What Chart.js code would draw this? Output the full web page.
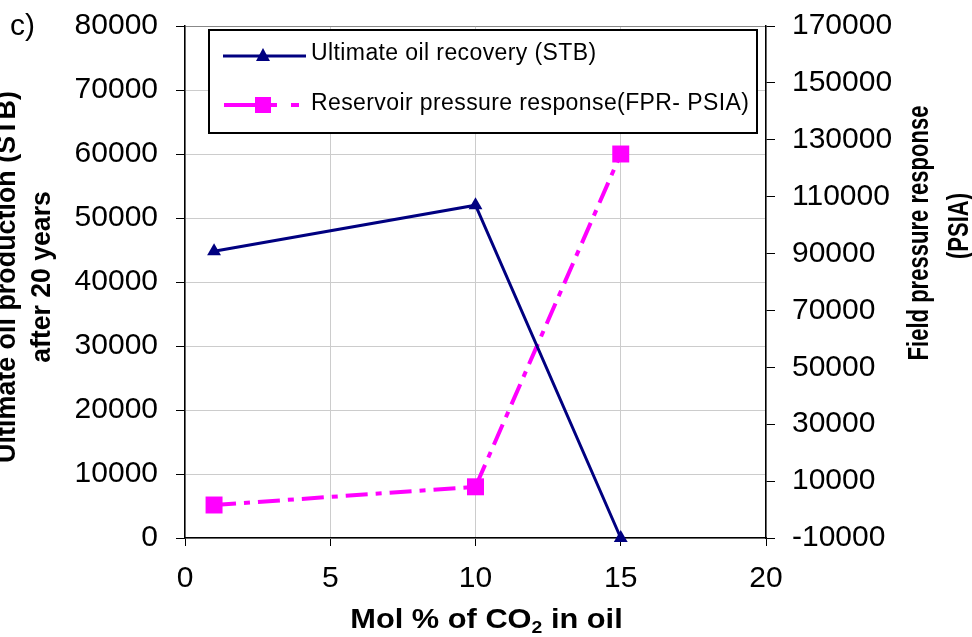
<!DOCTYPE html>
<html>
<head>
<meta charset="utf-8">
<script src="https://cdn.jsdelivr.net/npm/chart.js@4/dist/chart.umd.min.js"></script>
<style>
  html, body { margin: 0; padding: 0; background: #fff; }
  #wrap { width: 972px; height: 637px; position: relative; }
</style>
</head>
<body>
<div id="wrap"><canvas id="chart" width="972" height="637"></canvas></div>
<script>
// values
const molCO2 = [1, 10, 15];
const oilRecovery = [44800, 52000, 0];
const pressureResponse = [1600, 8000, 125000];

const xTicks = [0, 5, 10, 15, 20];
const leftTicks = [0, 10000, 20000, 30000, 40000, 50000, 60000, 70000, 80000];
const rightTicks = [-10000, 10000, 30000, 50000, 70000, 90000, 110000, 130000, 150000, 170000];

const seriesNames = ['Ultimate oil recovery (STB)', 'Reservoir pressure response(FPR- PSIA)'];

const FONT = "'Liberation Sans', Arial, sans-serif";
const NAVY = '#000080';
const PINK = '#ff00ff';

const fixTicks = (list) => (scale) => {
  scale.ticks = list.map((v) => ({ value: v }));
};

// fixed axis width, and no extra top/bottom room for the end labels
const fixWidth = (w) => (scale) => {
  scale.width = w;
  scale.paddingTop = 0;
  scale.paddingBottom = 0;
};

const drawRotated = (ctx, text, x, y, font, sx) => {
  ctx.save();
  ctx.translate(x, y);
  ctx.rotate(-Math.PI / 2);
  ctx.scale(sx, 1);
  ctx.font = font;
  ctx.textAlign = 'center';
  ctx.textBaseline = 'alphabetic';
  ctx.fillStyle = '#000';
  ctx.fillText(text, 0, 0);
  ctx.restore();
};

const annotations = {
  id: 'annotations',
  afterDraw(chart) {
    const ctx = chart.ctx;
    ctx.save();

    // panel label
    ctx.font = `30px ${FONT}`;
    ctx.fillStyle = '#000';
    ctx.textAlign = 'left';
    ctx.textBaseline = 'alphabetic';
    ctx.fillText('c)', 10, 35);

    // axis titles
    const bold = `bold 28px ${FONT}`;
    drawRotated(ctx, 'Ultimate oil production (STB)', 15, 277, bold, 0.96);
    drawRotated(ctx, 'after 20 years', 50, 277, bold, 0.95);
    drawRotated(ctx, 'Field pressure response', 928, 233, `bold 29px ${FONT}`, 0.76);
    drawRotated(ctx, '(PSIA)', 968, 226, `bold 29px ${FONT}`, 0.76);

    // x title with subscript
    const main1 = 'Mol % of CO';
    const sub = '2';
    const main2 = ' in oil';
    const big = `bold 27px ${FONT}`;
    const small = `bold 17px ${FONT}`;
    ctx.font = big;
    const w1 = ctx.measureText(main1).width;
    const w3 = ctx.measureText(main2).width;
    ctx.font = small;
    const w2 = ctx.measureText(sub).width;
    const total = w1 + w2 + w3;
    ctx.save();
    ctx.translate(486.5, 628);
    ctx.scale(1.14, 1);
    let cx = -total / 2;
    ctx.textAlign = 'left';
    ctx.font = big;
    ctx.fillText(main1, cx, 0);
    cx += w1;
    ctx.font = small;
    ctx.fillText(sub, cx, 5);
    cx += w2;
    ctx.font = big;
    ctx.fillText(main2, cx, 0);
    ctx.restore();

    // legend box
    ctx.fillStyle = '#fff';
    ctx.fillRect(209, 30, 548, 103);
    ctx.strokeStyle = '#000';
    ctx.lineWidth = 2;
    ctx.strokeRect(209, 30, 548, 103);

    // legend row 1
    ctx.strokeStyle = NAVY;
    ctx.lineWidth = 3;
    ctx.setLineDash([]);
    ctx.beginPath();
    ctx.moveTo(223, 56);
    ctx.lineTo(306, 56);
    ctx.stroke();
    ctx.fillStyle = NAVY;
    ctx.beginPath();
    ctx.moveTo(263, 48);
    ctx.lineTo(270, 61);
    ctx.lineTo(256, 61);
    ctx.closePath();
    ctx.fill();

    // legend row 2
    ctx.strokeStyle = PINK;
    ctx.lineWidth = 4;
    ctx.beginPath();
    ctx.moveTo(224, 105);
    ctx.lineTo(255, 105);
    ctx.moveTo(270, 105);
    ctx.lineTo(277, 105);
    ctx.moveTo(291, 105);
    ctx.lineTo(299, 105);
    ctx.stroke();
    ctx.fillStyle = PINK;
    ctx.fillRect(255, 97, 16, 16);

    ctx.fillStyle = '#000';
    ctx.font = `23px ${FONT}`;
    ctx.letterSpacing = '0.4px';
    ctx.fillText(seriesNames[0], 311, 60);
    ctx.fillText(seriesNames[1], 311, 110);
    ctx.letterSpacing = '0px';

    ctx.restore();
  },
};

const ctx = document.getElementById('chart').getContext('2d');

new Chart(ctx, {
  type: 'line',
  data: {
    datasets: [
      {
        label: seriesNames[0],
        data: molCO2.map((x, i) => ({ x, y: oilRecovery[i] })),
        yAxisID: 'y',
        borderColor: NAVY,
        backgroundColor: NAVY,
        borderWidth: 3,
        pointStyle: 'triangle',
        pointRadius: 8,
        pointBorderWidth: 0,
        tension: 0,
        clip: false,
      },
      {
        label: seriesNames[1],
        data: molCO2.map((x, i) => ({ x, y: pressureResponse[i] })),
        yAxisID: 'y1',
        borderColor: PINK,
        backgroundColor: PINK,
        borderWidth: 4,
        borderDash: [22, 8, 6, 8],
        pointStyle: 'rect',
        pointRadius: 12,
        pointBorderWidth: 0,
        tension: 0,
        clip: false,
      },
    ],
  },
  options: {
    responsive: false,
    animation: false,
    devicePixelRatio: 1,
    layout: { padding: { top: 26, left: 0, right: 0, bottom: 0 }, autoPadding: false },
    plugins: {
      legend: { display: false },
      tooltip: { enabled: false },
    },
    scales: {
      x: {
        type: 'linear',
        min: 0,
        max: 20,
        afterBuildTicks: fixTicks(xTicks),
        afterFit: (scale) => {
          scale.height = 99;
          scale.paddingLeft = 0;
          scale.paddingRight = 0;
        },
        ticks: {
          color: '#000',
          font: { family: FONT, size: 30 },
          padding: 15,
          maxRotation: 0,
        },
        grid: { color: '#cccccc', lineWidth: 1, tickColor: '#000', tickLength: 8 },
        border: { color: '#000', width: 1.5 },
      },
      y: {
        position: 'left',
        min: 0,
        max: 80000,
        afterBuildTicks: fixTicks(leftTicks),
        afterFit: fixWidth(185),
        ticks: {
          color: '#000',
          font: { family: FONT, size: 30 },
          padding: 18,
          callback: (v) => String(v),
        },
        grid: {
          color: (c) => (c.tick && c.tick.value === 80000 ? '#888888' : '#cccccc'),
          lineWidth: 1,
          tickColor: '#000',
          tickLength: 9,
        },
        border: { color: '#000', width: 1.5 },
      },
      y1: {
        position: 'right',
        min: -10000,
        max: 170000,
        afterBuildTicks: fixTicks(rightTicks),
        afterFit: fixWidth(206),
        ticks: {
          color: '#000',
          font: { family: FONT, size: 30 },
          padding: 17,
          callback: (v) => String(v),
        },
        grid: { drawOnChartArea: false, tickColor: '#000', tickLength: 9 },
        border: { color: '#000', width: 1.5 },
      },
    },
  },
  plugins: [annotations],
});
</script>
</body>
</html>
